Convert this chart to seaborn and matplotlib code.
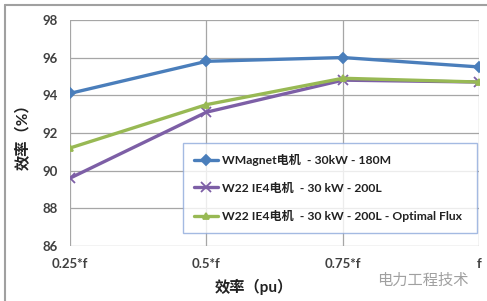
import matplotlib
matplotlib.use("Agg")
import matplotlib.pyplot as plt
import seaborn as sns
import pandas as pd
from matplotlib.lines import Line2D

categories = ["0.25*f", "0.5*f", "0.75*f", "f"]
wmagnet = [94.1, 95.8, 96.0, 95.5]
w22 = [89.6, 93.1, 94.8, 94.7]
w22_opt = [91.2, 93.5, 94.9, 94.7]
series_names = ["WMagnet电机  - 30kW - 180M",
                "W22 IE4电机  - 30 kW - 200L",
                "W22 IE4电机  - 30 kW - 200L - Optimal Flux"]
y_ticks = [86, 88, 90, 92, 94, 96, 98]

sns.set_theme(style="white")
plt.rcParams['font.family'] = ['Lato', 'Noto Sans CJK SC', 'DejaVu Sans']

rows = []
for name, vals in zip(series_names, [wmagnet, w22, w22_opt]):
    for i, v in enumerate(vals):
        rows.append({"x": i, "y": v, "series": name})
df = pd.DataFrame(rows)

colors = ["#4A7EBB", "#7D5FA6", "#98B954"]
markers = ["D", "x", "^"]

fig = plt.figure(figsize=(4.87, 3.01), dpi=100)
ax = fig.add_axes([0.144, 0.183, 0.840, 0.751])

for name, c, m in zip(series_names, colors, markers):
    sub = df[df.series == name]
    sns.lineplot(data=sub, x="x", y="y", ax=ax, color=c, linewidth=2.4,
                 marker=m, markersize=5 if m != "x" else 7, markeredgewidth=1.3,
                 markeredgecolor=c, label=name, sort=False)

ax.set_xlim(0, len(categories) - 1)
ax.set_ylim(86, 98)
ax.set_xticks(range(len(categories)))
ax.set_xticklabels(categories)
ax.set_yticks(y_ticks)
ax.grid(True, color="#A6A6A6", linewidth=0.9)
for s in ax.spines.values():
    s.set_visible(False)
ax.tick_params(axis="both", length=0, labelsize=9.5, colors="#404040", pad=9)
for lab in ax.get_xticklabels() + ax.get_yticklabels():
    lab.set_fontweight("bold")

ax.set_xlabel("效率（pu）", fontsize=11, fontweight="bold", color="#222222")
ax.xaxis.set_label_coords(0.45, -0.145)
ax.set_ylabel("效率（%）", fontsize=11, fontweight="bold", color="#222222", labelpad=8)

leg = ax.legend(loc="lower left", bbox_to_anchor=(0.276, 0.058, 0.719, 0.455),
                mode="expand", frameon=True, fancybox=False, fontsize=8.7,
                handlelength=2.0, labelspacing=1.35, borderpad=0.9,
                handletextpad=0.3, borderaxespad=0)
leg.get_frame().set_edgecolor("#8EA9DB")
leg.get_frame().set_linewidth(1.0)
for t in leg.get_texts():
    t.set_color("#222222")
    t.set_fontweight("bold")

fig.text(0.775, 0.068, "电力工程技术", fontsize=11, color="#A0A0A0",
         family=['Noto Sans CJK SC', 'DejaVu Sans'], ha="left", va="center")

fig.add_artist(Line2D([0.010, 0.010], [0.0, 0.985], transform=fig.transFigure,
                      color="#A0A0A0", linewidth=1.5))
fig.add_artist(Line2D([0.010, 1.0], [0.985, 0.985], transform=fig.transFigure,
                      color="#A0A0A0", linewidth=1.5))

fig.savefig("out.png", dpi=100)
